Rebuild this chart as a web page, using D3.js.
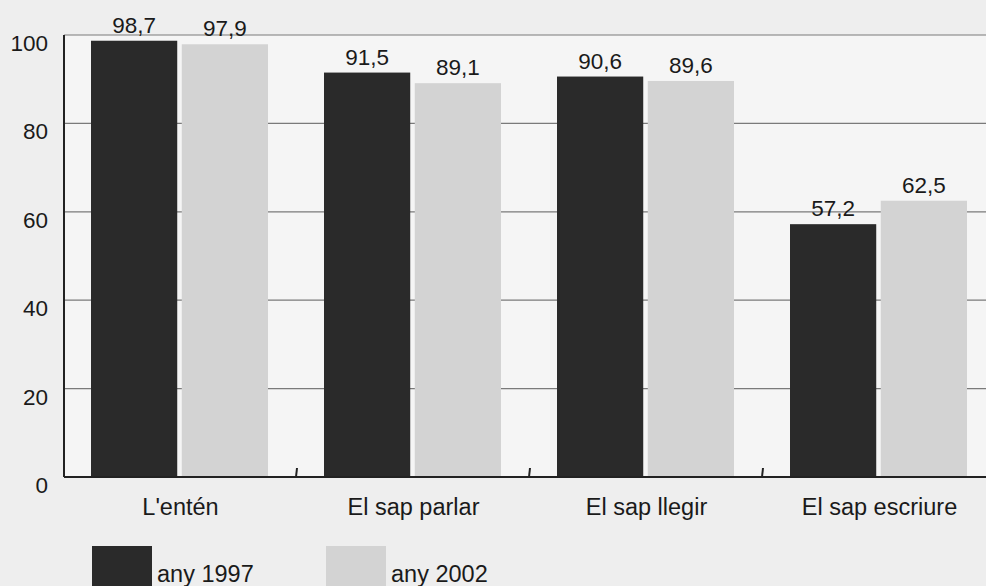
<!DOCTYPE html>
<html>
<head>
<meta charset="utf-8">
<script src="https://cdn.jsdelivr.net/npm/d3@7"></script>
<style>
  html, body { margin: 0; padding: 0; background: #eeeeee; }
  svg { display: block; }
  text { font-family: "Liberation Sans", Arial, sans-serif; fill: #1a1a1a; }
</style>
</head>
<body>
<svg id="chart" width="986" height="586"></svg>
<script>
// Knowledge of Catalan, percentage of population
const categories = ["L'entén", "El sap parlar", "El sap llegir", "El sap escriure"];
const series = ["any 1997", "any 2002"];
const values1997 = [98.7, 91.5, 90.6, 57.2];
const values2002 = [97.9, 89.1, 89.6, 62.5];
const yTicks = [0, 20, 40, 60, 80, 100];

const colors = ["#2a2a2a", "#d3d3d3"];
const fmt = v => d3.format(".1f")(v).replace(".", ",");

const svg = d3.select("#chart");
const plotLeft = 64, plotRight = 996, plotTop = 35, plotBottom = 477;

const x = d3.scaleBand().domain(categories).range([plotLeft, plotRight]);
const x1 = d3.scaleBand().domain(series).range([27, 27 + 177]).paddingInner(0.05);
const y = d3.scaleLinear().domain([0, 100]).range([plotBottom, plotTop]);

// plot area
svg.append("rect").attr("x", plotLeft).attr("y", plotTop)
  .attr("width", 986 - plotLeft).attr("height", plotBottom - plotTop)
  .attr("fill", "#f5f5f5");

// gridlines
svg.append("g").selectAll("line").data(yTicks.filter(d => d > 0)).join("line")
  .attr("x1", plotLeft).attr("x2", 986)
  .attr("y1", d => y(d)).attr("y2", d => y(d))
  .attr("stroke", "#7a7a7a").attr("stroke-width", 1.2);

// y tick labels
svg.append("g").selectAll("text").data(yTicks).join("text")
  .attr("x", 48).attr("y", d => y(d) + 16)
  .attr("text-anchor", "end").attr("font-size", 22.5)
  .text(d => d);

// bars
const data = categories.map((c, i) => ({ cat: c, vals: [values1997[i], values2002[i]] }));
const groups = svg.append("g").selectAll("g").data(data).join("g")
  .attr("transform", d => `translate(${x(d.cat)},0)`);

groups.selectAll("rect").data(d => d.vals.map((v, j) => ({ s: series[j], v, j }))).join("rect")
  .attr("x", d => x1(d.s)).attr("width", x1.bandwidth())
  .attr("y", d => y(d.v)).attr("height", d => y(0) - y(d.v))
  .attr("fill", d => colors[d.j]);

groups.selectAll("text").data(d => d.vals.map((v, j) => ({ s: series[j], v, j }))).join("text")
  .attr("x", d => x1(d.s) + x1.bandwidth() / 2).attr("y", d => y(d.v) - 8)
  .attr("text-anchor", "middle").attr("font-size", 22.5)
  .text(d => fmt(d.v));

// axes lines
svg.append("line").attr("x1", plotLeft).attr("x2", plotLeft).attr("y1", plotTop).attr("y2", plotBottom)
  .attr("stroke", "#222").attr("stroke-width", 2);
svg.append("line").attr("x1", plotLeft).attr("x2", 986).attr("y1", plotBottom).attr("y2", plotBottom)
  .attr("stroke", "#222").attr("stroke-width", 2);

// category separator ticks
svg.append("g").selectAll("line").data(categories.slice(1)).join("line")
  .attr("x1", d => x(d) - 1).attr("x2", d => x(d))
  .attr("y1", plotBottom).attr("y2", plotBottom - 9)
  .attr("stroke", "#222").attr("stroke-width", 2);

// category labels
svg.append("g").selectAll("text").data(categories).join("text")
  .attr("x", d => x(d) + x.bandwidth() / 2).attr("y", 515)
  .attr("text-anchor", "middle").attr("font-size", 23.5)
  .text(d => d);

// legend
const legendX = [92, 326];
const legend = svg.append("g").selectAll("g").data(series).join("g")
  .attr("transform", (d, i) => `translate(${legendX[i]},546)`);
legend.append("rect").attr("width", 60).attr("height", 40).attr("fill", (d, i) => colors[i]);
legend.append("text").attr("x", 65).attr("y", 36).attr("font-size", 23.5).text(d => d);
</script>
</body>
</html>
